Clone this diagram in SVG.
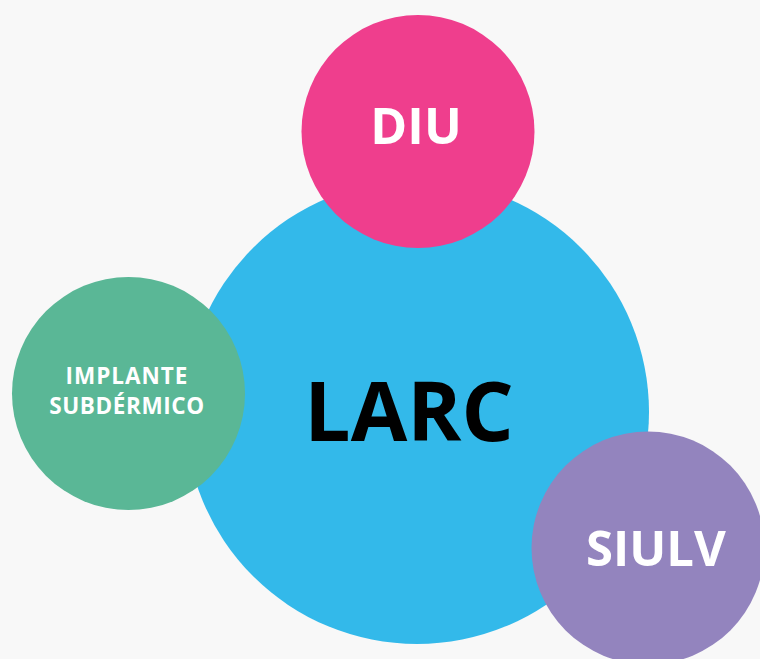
<svg xmlns="http://www.w3.org/2000/svg" width="760" height="659" viewBox="0 0 760 659">
<style>
text{font-family:"Open Sans","Noto Sans","DejaVu Sans",sans-serif;font-weight:700;text-anchor:middle}
.w{fill:#ffffff}
</style>
<rect width="760" height="659" fill="#f8f8f8"/>
<g id="connectors"></g>
<g id="larc">
<circle cx="417" cy="412" r="232" fill="#33b9ea"/>
<text x="409" y="441" font-size="82" fill="#000000">LARC</text>
</g>
<g id="diu">
<circle cx="418" cy="131.5" r="116.5" fill="#ef3e8d"/>
<text class="w" x="416" y="144" font-size="50">DIU</text>
</g>
<g id="implante">
<circle cx="128.5" cy="393.5" r="116.5" fill="#5ab796"/>
<text class="w" x="127" y="384" font-size="22.5" letter-spacing="1">IMPLANTE</text>
<text class="w" x="127" y="414" font-size="22.5" letter-spacing="0.6">SUBDÉRMICO</text>
</g>
<g id="siulv">
<circle cx="648" cy="548" r="116.5" fill="#9384be"/>
<text class="w" x="656" y="566" font-size="49">SIULV</text>
</g>
</svg>
